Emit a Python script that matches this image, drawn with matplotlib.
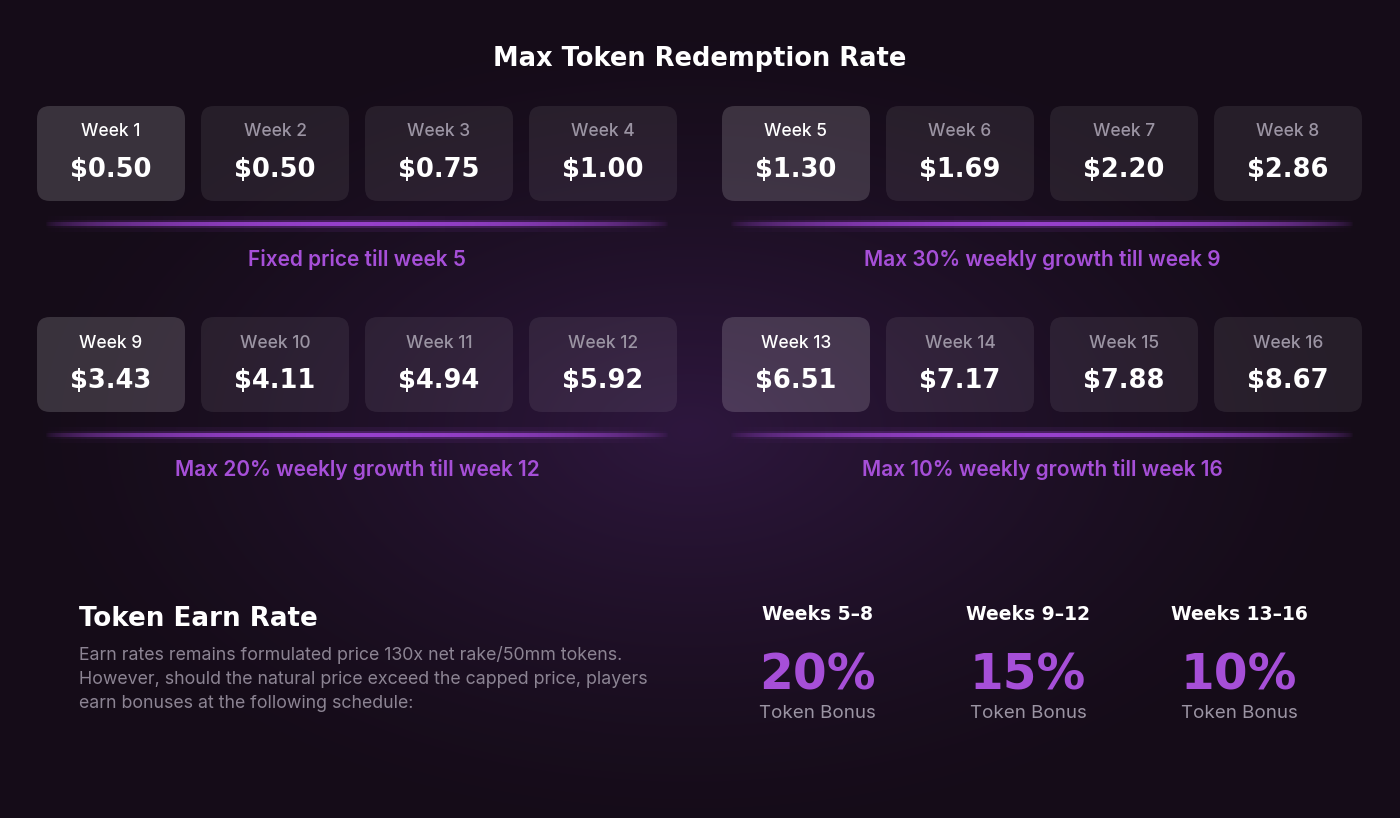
import numpy as np
import matplotlib
matplotlib.use("Agg")
import matplotlib.pyplot as plt
from matplotlib.patches import FancyBboxPatch

# ---------------- data ----------------
weeks = [f"Week {i}" for i in range(1, 17)]
prices = [0.50, 0.50, 0.75, 1.00, 1.30, 1.69, 2.20, 2.86,
          3.43, 4.11, 4.94, 5.92, 6.51, 7.17, 7.88, 8.67]
captions = ["Fixed price till week 5", "Max 30% weekly growth till week 9",
            "Max 20% weekly growth till week 12", "Max 10% weekly growth till week 16"]
title = "Max Token Redemption Rate"
earn_title = "Token Earn Rate"
earn_text = ["Earn rates remains formulated price 130x net rake/50mm tokens.",
             "However, should the natural price exceed the capped price, players",
             "earn bonuses at the following schedule:"]
bonus_ranges = ["Weeks 5\u20138", "Weeks 9\u201312", "Weeks 13\u201316"]
bonus_pct = [20, 15, 10]
bonus_label = "Token Bonus"

# ---------------- style ----------------
W, H = 1400, 818
PURPLE = "#a64fd8"
WHITE = "#ffffff"
GRAY = "#9b94a3"
DISPLAY = "DejaVu Sans"
BODY = "Inter"

fig = plt.figure(figsize=(W / 100, H / 100), dpi=100)
ax = fig.add_axes([0, 0, 1, 1])
ax.set_xlim(0, W)
ax.set_ylim(H, 0)
ax.axis("off")

# background with purple radial glow
yy, xx = np.mgrid[0:H, 0:W]
d = np.sqrt(((xx - 690) / 700.0) ** 2 + ((yy - 430) / 420.0) ** 2)
g = np.clip(1 - d, 0, 1) ** 1.4
base = np.array([0x15, 0x0c, 0x18]) / 255.0
glow = np.array([0x2e, 0x17, 0x3e]) / 255.0
bg = base[None, None, :] * (1 - g[..., None]) + glow[None, None, :] * g[..., None]
ax.imshow(bg, extent=[0, W, H, 0], zorder=0, aspect="auto")

# title
ax.text(W / 2, 59, title, ha="center", va="center", color=WHITE,
        fontsize=18.5, fontweight="bold", family=DISPLAY, zorder=5)

# cards
box_w, box_h, pitch = 148, 95, 164
group_x = [37, 722, 37, 722]
group_y = [106, 106, 317, 317]
for i, (wk, pr) in enumerate(zip(weeks, prices)):
    grp, j = divmod(i, 4)
    x0 = group_x[grp] + j * pitch
    y0 = group_y[grp]
    hi = (j == 0)
    p = FancyBboxPatch((x0, y0), box_w, box_h,
                       boxstyle="round,pad=0,rounding_size=13",
                       facecolor="#ffffff", alpha=0.155 if hi else 0.075,
                       edgecolor="none", zorder=2)
    ax.add_patch(p)
    cx = x0 + box_w / 2
    ax.text(cx, y0 + 26, wk, ha="center", va="center",
            color=WHITE if hi else GRAY, fontsize=12.5, family=BODY,
            fontweight="medium", zorder=5)
    ax.text(cx, y0 + 64, f"${pr:.2f}", ha="center", va="center", color=WHITE,
            fontsize=18.5, fontweight="bold", family=DISPLAY, zorder=5)

# divider lines with glow + captions
n = 600
t = np.linspace(0, 1, n)
prof = np.clip(np.sin(np.pi * t), 0, 1) ** 0.6
pc = np.array([0xa0, 0x45, 0xd8]) / 255.0
for grp in range(4):
    x0 = group_x[grp] + 8
    x1 = group_x[grp] + 3 * pitch + box_w - 8
    yc = group_y[grp] + 118
    for hh, amp in [(16, 0.10), (8, 0.25), (4, 0.9)]:
        img = np.zeros((1, n, 4))
        img[..., :3] = pc
        img[0, :, 3] = prof * amp
        ax.imshow(img, extent=[x0, x1, yc + hh / 2, yc - hh / 2],
                  zorder=1, aspect="auto", interpolation="bilinear")
    cxg = group_x[grp] + (3 * pitch + box_w) / 2
    ax.text(cxg, yc + 35, captions[grp], ha="center", va="center",
            color=PURPLE, fontsize=15, fontweight="semibold", family=BODY, zorder=5)

# token earn rate section
ax.text(79, 619, earn_title, ha="left", va="center", color=WHITE,
        fontsize=18.8, fontweight="bold", family=DISPLAY, zorder=5)
for k, line in enumerate(earn_text):
    ax.text(79, 655 + 24 * k, line, ha="left", va="center", color="#8c8493",
            fontsize=12.8, family=BODY, zorder=5)

bonus_x = [817, 1028, 1239]
for bx, rng, pct in zip(bonus_x, bonus_ranges, bonus_pct):
    ax.text(bx, 615, rng, ha="center", va="center", color=WHITE,
            fontsize=13.5, fontweight="bold", family=DISPLAY, zorder=5)
    ax.text(bx, 675, f"{pct}%", ha="center", va="center", color=PURPLE,
            fontsize=35, fontweight="bold", family=DISPLAY, zorder=5)
    ax.text(bx, 713, bonus_label, ha="center", va="center", color=GRAY,
            fontsize=13.5, family=BODY, zorder=5)

fig.savefig("out.png", dpi=100)
